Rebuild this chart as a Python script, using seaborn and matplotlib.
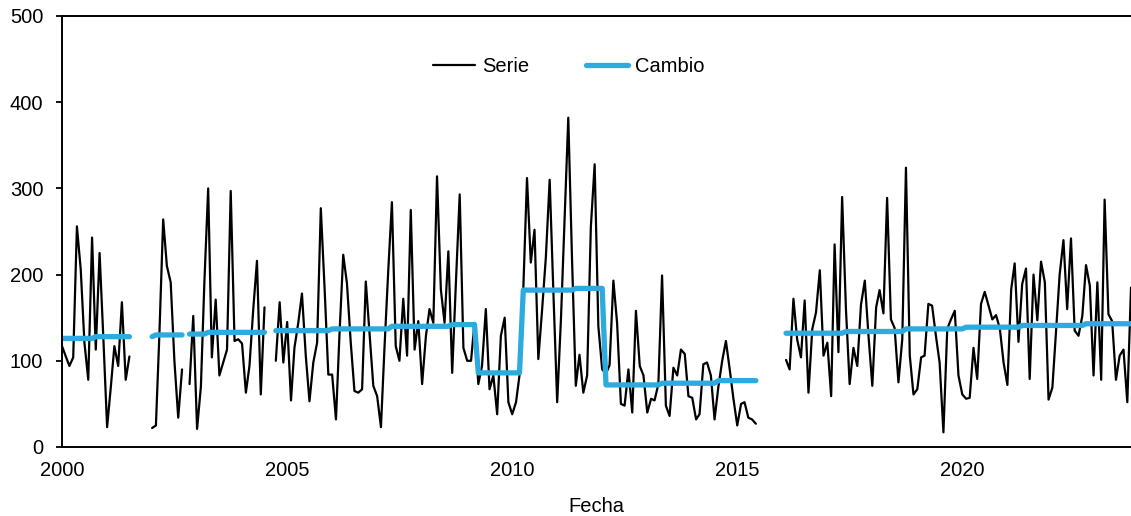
import pandas as pd
import matplotlib
matplotlib.use("Agg")
import matplotlib.pyplot as plt
import matplotlib.dates as mdates
from matplotlib.lines import Line2D
import seaborn as sns

# serie mensual por tramos (los huecos son meses sin dato)
tramo_inicio = ["2000-01", "2002-01", "2002-11", "2004-10", "2016-02"]
serie_t1 = [117, 105, 94, 104, 256, 206, 121, 78, 243, 113, 225, 128, 23, 71, 117, 94, 168, 78, 105]
serie_t2 = [22, 25, 130, 264, 210, 191, 100, 34, 90]
serie_t3 = [73, 152, 21, 70, 190, 300, 104, 171, 83, 98, 113, 297, 123, 125, 120, 63, 94, 160, 216, 61, 162]
serie_t4 = [100, 168, 98, 145, 54, 115, 144, 178, 106, 53, 98, 121,
            277, 183, 84, 84, 32, 129, 223, 190, 121, 65, 63, 67,
            192, 130, 71, 59, 23, 113, 204, 284, 117, 100, 172, 106,
            275, 113, 146, 73, 129, 160, 144, 314, 183, 144, 227, 86,
            190, 293, 115, 100, 100, 144, 73, 94, 160, 67, 83, 38,
            129, 150, 52, 38, 52, 83, 183, 312, 214, 252, 102, 160,
            220, 310, 180, 52, 150, 260, 382, 220, 71, 107, 63, 83,
            255, 328, 140, 90, 85, 95, 193, 144, 50, 48, 90, 40,
            158, 94, 83, 40, 56, 54, 73, 199, 48, 36, 92, 83,
            113, 108, 59, 57, 32, 38, 96, 98, 83, 32, 70, 100,
            123, 90, 56, 25, 50, 52, 34, 32, 27]
serie_t5 = [101, 90, 172, 125, 104, 170, 63, 137, 156, 205, 106, 121,
            59, 235, 110, 290, 160, 73, 115, 94, 165, 193, 129, 71,
            162, 182, 155, 289, 148, 138, 75, 125, 324, 106, 61, 67,
            104, 106, 166, 164, 129, 98, 17, 137, 148, 158, 83, 61,
            56, 57, 115, 79, 166, 180, 164, 148, 153, 137, 98, 72,
            183, 213, 122, 189, 207, 79, 200, 147, 215, 191, 55, 69,
            137, 200, 240, 160, 242, 135, 129, 152, 211, 187, 83, 191,
            78, 287, 154, 146, 78, 106, 113, 52, 185]

# niveles del cambio (mes en que empieza cada nivel)
cambio_inicio = ["2000-01", "2000-10", "2002-01", "2002-02", "2002-11", "2003-04",
                 "2004-10", "2006-01", "2007-05", "2008-09", "2009-04", "2010-04",
                 "2011-06", "2012-02", "2013-05", "2014-08", "2016-02", "2017-06",
                 "2018-10", "2020-02", "2021-05", "2022-10"]
cambio_nivel = [126, 128, 128, 130, 131, 133,
                135, 137, 140, 142, 86, 182,
                184, 72, 74, 77, 132, 134,
                137, 139, 141, 143]

AZUL = "#2EABDE"
FS = 14.5


def build_frame():
    tramos = [serie_t1, serie_t2, serie_t3, serie_t4, serie_t5]
    frames = []
    for k, (ini, vals) in enumerate(zip(tramo_inicio, tramos)):
        fechas = pd.date_range(ini, periods=len(vals), freq="MS")
        frames.append(pd.DataFrame({"fecha": fechas, "serie": vals, "tramo": k}))
    df = pd.concat(frames, ignore_index=True)
    niveles = pd.Series(cambio_nivel, index=pd.to_datetime(cambio_inicio))
    df["cambio"] = niveles.reindex(df["fecha"], method="ffill").values
    return df


def plot(df):
    sns.set_style("ticks")
    plt.rcParams["font.family"] = ["Liberation Sans", "DejaVu Sans"]
    plt.rcParams["text.color"] = "black"
    plt.rcParams["axes.labelcolor"] = "black"

    fig = plt.figure(figsize=(11.31, 5.16), dpi=100)
    ax = fig.add_axes([62 / 1131, 69 / 516, 1 - 62 / 1131, 431 / 516])

    sns.lineplot(data=df, x="fecha", y="serie", units="tramo", estimator=None,
                 color="black", linewidth=1.6, ax=ax)
    sns.lineplot(data=df, x="fecha", y="cambio", units="tramo", estimator=None,
                 color=AZUL, linewidth=3.8, solid_capstyle="round", ax=ax)

    ax.set_xlim(pd.Timestamp("2000-01-01"), pd.Timestamp("2023-10-01"))
    ax.set_ylim(0, 500)
    ax.set_yticks(range(0, 501, 100))
    ax.xaxis.set_major_locator(mdates.YearLocator(5))
    ax.xaxis.set_major_formatter(mdates.DateFormatter("%Y"))

    sns.despine(ax=ax, top=False, right=True)
    for side in ["left", "bottom", "top"]:
        ax.spines[side].set_linewidth(1.4)
        ax.spines[side].set_color("black")
    ax.tick_params(axis="y", length=4.5, width=1.3, pad=9, labelsize=FS, colors="black")
    ax.tick_params(axis="x", length=0, pad=10, labelsize=FS, colors="black")

    ax.set_xlabel("Fecha", fontsize=FS, labelpad=12, color="black")
    ax.set_ylabel("")

    handles = [Line2D([], [], color="black", linewidth=1.6),
               Line2D([], [], color=AZUL, linewidth=3.8, solid_capstyle="round")]
    ax.legend(handles, ["Serie", "Cambio"], loc="center", bbox_to_anchor=(0.474, 0.882),
              ncol=2, frameon=False, fontsize=FS, handlelength=2.1,
              handletextpad=0.35, columnspacing=2.8, labelcolor="black")

    fig.savefig("out.png", dpi=100)
    plt.close(fig)


if __name__ == "__main__":
    plot(build_frame())
